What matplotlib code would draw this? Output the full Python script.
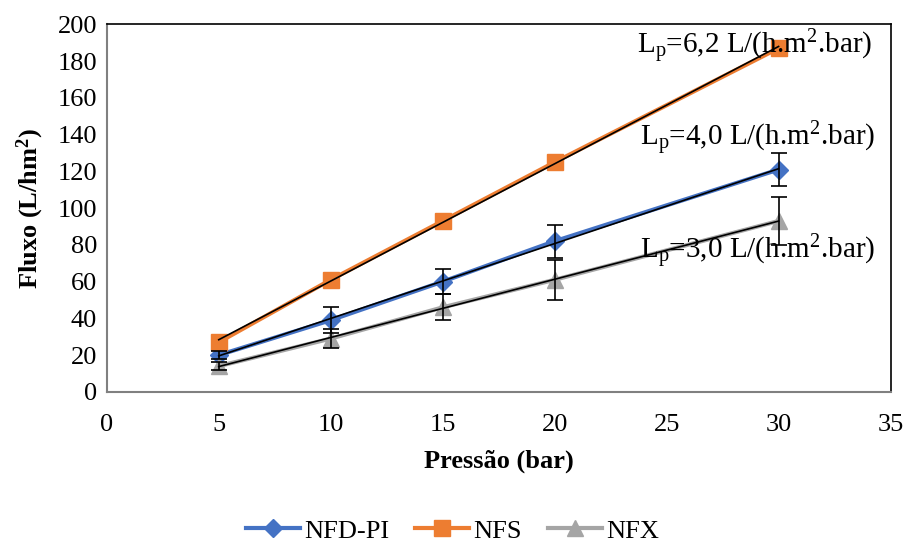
import matplotlib
matplotlib.use("Agg")
import matplotlib.pyplot as plt
import numpy as np

plt.rcParams['font.family'] = ['Liberation Serif', 'DejaVu Serif']
plt.rcParams['mathtext.fontset'] = 'custom'
plt.rcParams['mathtext.rm'] = 'Liberation Serif'
plt.rcParams['mathtext.it'] = 'Liberation Serif:italic'
plt.rcParams['mathtext.bf'] = 'Liberation Serif:bold'

pressure = [5, 10, 15, 20, 30]
nfd_pi = [20, 39, 60, 82, 121]
nfd_pi_err = [2, 7, 7, 9, 9]
nfs = [27, 61, 93, 125, 187]
nfx = [14, 29, 46, 61, 93]
nfx_err = [2, 5, 7, 11, 13]
labels = ["L$_\\mathrm{p}$=6,2 L/(h.m$^\\mathrm{2}$.bar)",
          "L$_\\mathrm{p}$=4,0 L/(h.m$^\\mathrm{2}$.bar)",
          "L$_\\mathrm{p}$=3,0 L/(h.m$^\\mathrm{2}$.bar)"]

fig = plt.figure(figsize=(9.05, 5.42), dpi=100)
ax = fig.add_axes([0.118, 0.277, 0.866, 0.678])

x = np.array(pressure)
series = [
    ("NFD-PI", nfd_pi, nfd_pi_err, '#4472C4', 'D', 9.5),
    ("NFS", nfs, None, '#ED7D31', 's', 11),
    ("NFX", nfx, nfx_err, '#A5A5A5', '^', 11),
]
for name, y, err, color, marker, ms in series:
    ax.plot(x, y, color=color, marker=marker, markersize=ms, linewidth=3,
            label=name, zorder=3)
    if err is not None:
        ax.errorbar(x, y, yerr=err, fmt='none', ecolor='black', elinewidth=1.2,
                    capsize=6, capthick=1.2, zorder=4)
    # linear trendline
    coef = np.polyfit(x, y, 1)
    xt = np.array([x.min(), x.max()])
    ax.plot(xt, np.polyval(coef, xt), color='black', linewidth=1.2, zorder=5)

ax.text(23.7, 188, labels[0], fontsize=21, va='center', ha='left', zorder=6)
ax.text(23.8, 138, labels[1], fontsize=21, va='center', ha='left', zorder=6)
ax.text(23.8, 76, labels[2], fontsize=21, va='center', ha='left', zorder=6)

ax.set_xlim(0, 35)
ax.set_ylim(0, 200)
ax.set_xticks(np.arange(0, 36, 5))
ax.set_yticks(np.arange(0, 201, 20))
ax.tick_params(length=0, labelsize=19, pad=7)
ax.tick_params(axis='x', pad=16)

for side in ['left', 'bottom']:
    ax.spines[side].set_color('#808080')
    ax.spines[side].set_linewidth(1.5)
for side in ['top', 'right']:
    ax.spines[side].set_color('black')
    ax.spines[side].set_linewidth(1.2)

ax.set_xlabel("Pressão (bar)", fontsize=19, fontweight='bold', labelpad=10)
ax.set_ylabel("Fluxo (L/hm$^\\mathbf{2}$)", fontsize=19, fontweight='bold',
              labelpad=8)

fig.legend(loc='lower center', ncol=3, frameon=False, fontsize=19,
           bbox_to_anchor=(0.5, -0.045), handlelength=2.05, columnspacing=1.0,
           handletextpad=0.15)

fig.savefig("out.png", dpi=100)
